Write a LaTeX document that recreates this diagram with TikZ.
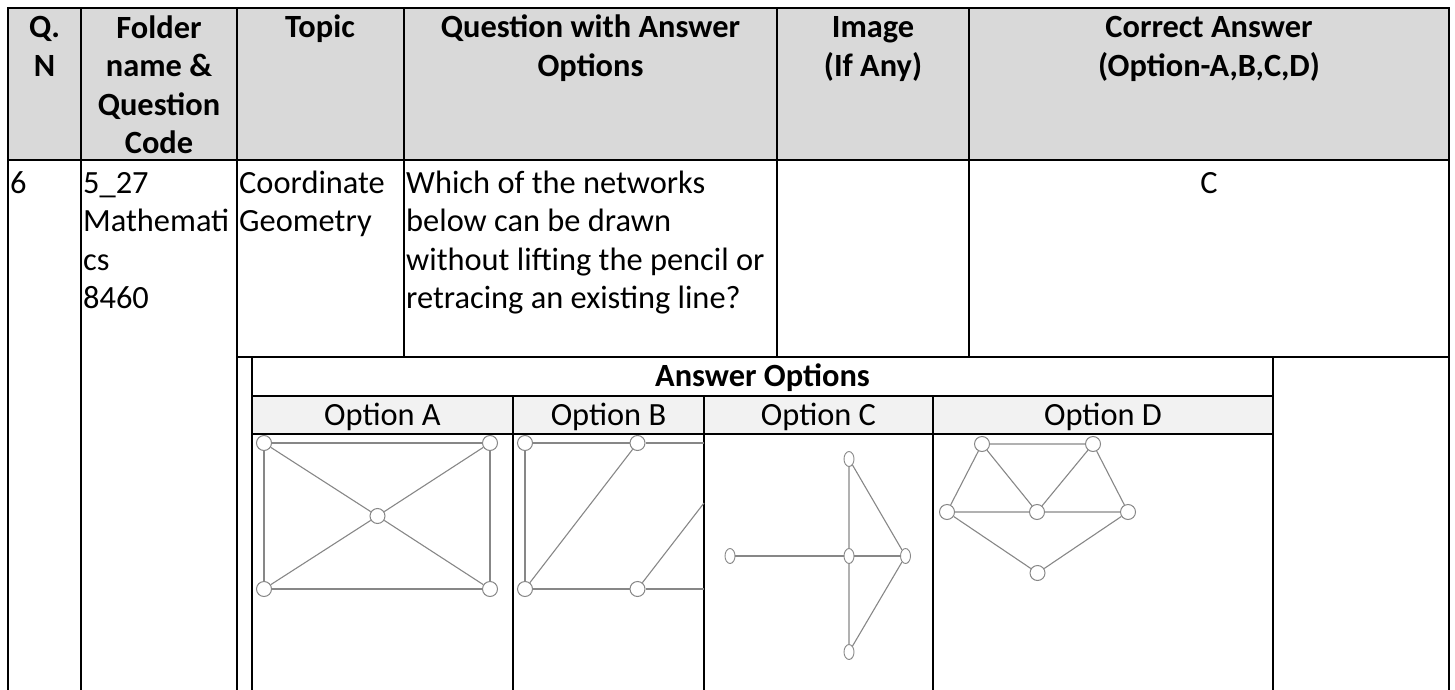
\documentclass[tikz,border=0pt]{standalone}
\usepackage{fontspec}
\setmainfont{Carlito}
\usetikzlibrary{shapes.geometric}
\definecolor{headgray}{RGB}{217,217,217}
\definecolor{optgray}{RGB}{242,242,242}
\definecolor{netgray}{RGB}{135,135,135}

\begin{document}
\begin{tikzpicture}[x=1pt,y=-1pt,
  txt/.style={font=\fontsize{32.4}{38.5}\selectfont, inner sep=0pt, align=left, anchor=base west},
  headtxt/.style={font=\fontsize{32.4}{38.5}\selectfont\bfseries, inner sep=0pt, align=center, anchor=base},
  opttxt/.style={font=\fontsize{32.4}{38.5}\selectfont, inner sep=0pt, anchor=base},
  rule/.style={line width=2.8pt},
  vtx/.style={circle, draw=netgray, fill=white, line width=1pt, minimum size=15pt, inner sep=0pt},
  vtxe/.style={ellipse, draw=netgray, fill=white, line width=0.9pt, minimum width=10pt, minimum height=15pt, inner sep=0pt},
  netline/.style={netgray, line width=1.1pt}]
\useasboundingbox (0,0) rectangle (1455,690);

\fill [headgray] (8,8) rectangle (1449,160);
\fill [optgray] (252,396) rectangle (1273,434);

% outer table
\draw [rule] (8,690) -- (8,8) -- (1449,8) -- (1449,690);
\draw [rule] (8,160) -- (1449,160);
\draw [rule] (81,8) -- (81,690);
\draw [rule] (237,8) -- (237,690);
\draw [rule] (404,8) -- (404,357);
\draw [rule] (777,8) -- (777,357);
\draw [rule] (969,8) -- (969,357);
\draw [rule] (237,357) -- (1449,357);

% answer options table
\draw [rule] (252,357) -- (252,690);
\draw [rule] (1273,357) -- (1273,690);
\draw [rule] (252,396) -- (1273,396);
\draw [rule] (252,434) -- (1273,434);
\draw [rule] (513,396) -- (513,690);
\draw [rule] (704,396) -- (704,690);
\draw [rule] (933,396) -- (933,690);

% header (base = last line)
\node [headtxt] (qn) at (44.5,76.5) {Q.\\N};
\node [headtxt] (folder) at (159,153.5) {Folder\\name \&\\Question\\Code};
\node [headtxt] (topic) at (320,38) {Topic};
\node [headtxt] (question) at (590.5,76.5) {Question with Answer\\Options};
\node [headtxt] (image) at (873,76.5) {Image\\(If Any)};
\node [headtxt] (correct) at (1209,76.5) {Correct Answer\\(Option-A,B,C,D)};

% row
\node [txt] (num) at (10,193) {6};
\node [txt] (code) at (83,308.5) {5\_27\\Mathemati\\cs\\8460};
\node [txt] (topicval) at (239,231.5) {Coordinate\\Geometry};
\node [txt] (qtext) at (406,308.5) {Which of the networks\\below can be drawn\\without lifting the pencil or\\retracing an existing line?};
\node [opttxt] (key) at (1209,193) {C};

\node [headtxt] (options) at (762.5,386) {Answer Options};
\node [opttxt] (labA) at (382.5,425) {Option A};
\node [opttxt] (labB) at (608.5,425) {Option B};
\node [opttxt] (labC) at (818.5,425) {Option C};
\node [opttxt] (labD) at (1103,425) {Option D};

% option A
\node [vtx] (a1) at (264,443) {};
\node [vtx] (a2) at (490,443) {};
\node [vtx] (a3) at (377.5,516) {};
\node [vtx] (a4) at (264,589) {};
\node [vtx] (a5) at (490,589) {};
\draw [netline] (a1) -- (a2) (a2) -- (a5) (a5) -- (a4) (a4) -- (a1);
\draw [netline] (a1) -- (a3) (a3) -- (a5) (a2) -- (a3) (a3) -- (a4);

% option B
\node [vtx] (b1) at (525,443) {};
\node [vtx] (b2) at (637.5,443) {};
\node [vtx] (b3) at (525,589) {};
\node [vtx] (b4) at (637.5,589) {};
\coordinate (b5) at (704,443);
\coordinate (b6) at (704,589);
\coordinate (b7) at (704,503);
\draw [netline] (b1) -- (b2) (b2) -- (b5) (b1) -- (b3) (b3) -- (b4) (b4) -- (b6);
\draw [netline] (b2) -- (b3) (b4) -- (b7);

% option C
\node [vtxe] (c1) at (849,459) {};
\node [vtxe] (c2) at (730,556) {};
\node [vtxe] (c3) at (849,556) {};
\node [vtxe] (c4) at (905.5,556) {};
\node [vtxe] (c5) at (849,652) {};
\draw [netline] (c1) -- (c3) (c3) -- (c5) (c1) -- (c4) (c4) -- (c5);
\draw [netline, line width=1.8pt] (c2) -- (c3) (c3) -- (c4);

% option D
\node [vtx] (d1) at (982,444) {};
\node [vtx] (d2) at (1093,444) {};
\node [vtx] (d3) at (947,512) {};
\node [vtx] (d4) at (1037,512) {};
\node [vtx] (d5) at (1128,512) {};
\node [vtx] (d6) at (1037.5,573) {};
\draw [netline] (d1) -- (d2) (d1) -- (d3) (d1) -- (d4) (d4) -- (d2) (d2) -- (d5);
\draw [netline] (d3) -- (d4) (d4) -- (d5) (d3) -- (d6) (d6) -- (d5);

\end{tikzpicture}
\end{document}
